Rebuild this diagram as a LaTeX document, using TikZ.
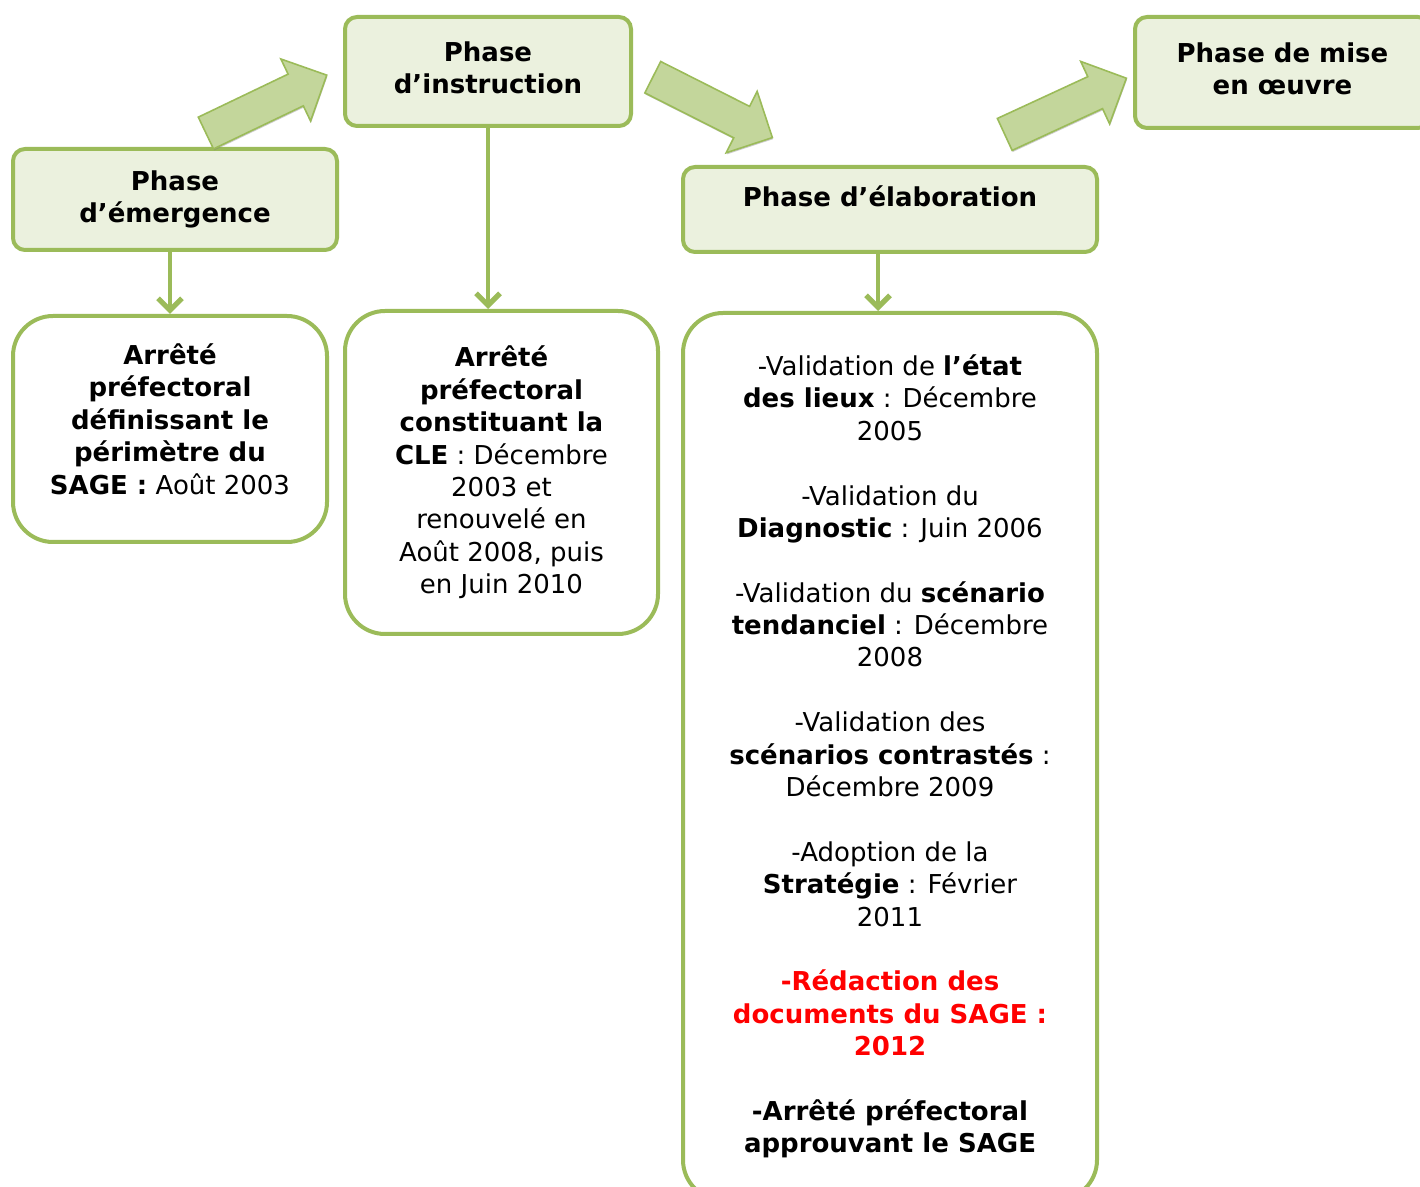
\documentclass[tikz,border=0pt]{standalone}
\usepackage{fontspec}
\setmainfont{DejaVu Sans}
\usepackage{tikz}
\usetikzlibrary{arrows.meta,shapes.arrows,shadows}
\definecolor{vert}{HTML}{9BBB59}
\definecolor{vertclair}{HTML}{EBF1DE}
\definecolor{vertfleche}{HTML}{C3D69B}
\tikzset{
		phase/.style={
			rectangle,
			rounded corners=6pt,
			fill=vertclair,
			draw=vert, line width=2pt,
			align=center,
			font=\fontsize{13}{16.2}\selectfont\bfseries,
			inner sep=0pt},
		detail/.style={
			rectangle,
			rounded corners=20pt,
			fill=white,
			draw=vert, line width=2pt,
			align=center,
			font=\fontsize{13}{16.2}\selectfont,
			inner sep=0pt},
		down/.style={draw=vert, line width=2pt,
			-{Straight Barb[length=6pt,width=12pt,line width=2.6pt]}},
		blockarrow/.style={
			single arrow,
			fill=vertfleche,
			draw=vert, line width=0.8pt,
			minimum height=67pt,
			inner xsep=0pt, inner ysep=8.4pt,
			single arrow head extend=8.4pt,
			drop shadow={shadow xshift=0.3pt, shadow yshift=-0.8pt, opacity=0.4}},
	}

\begin{document}
\begin{tikzpicture}[x=0.5pt, y=-0.5pt]
	\useasboundingbox (0,0) rectangle (1420,1187);

	%% phases
	\node[phase, minimum width=162pt, minimum height=50.5pt] (emerg) at (175,199.5) {Phase\\d’émergence};
	\node[phase, minimum width=143pt, minimum height=54.5pt, text depth=4pt] (instr) at (488,71.5) {Phase\\d’instruction};
	\node[phase, minimum width=207pt, minimum height=42.5pt, text depth=13.8pt] (elab) at (890,209.5) {Phase d’élaboration};
	\node[phase, minimum width=147.5pt, minimum height=55.5pt, text depth=4pt] (oeuvre) at (1282.5,72.5) {Phase de mise\\en œuvre};

	%% block arrows
	\node[blockarrow, rotate=25.6, xshift=-4.5pt] (go1) at (266.5,104) {};
	\node[blockarrow, rotate=-26.8, xshift=-4.5pt] (go2) at (712.75,107.5) {};
	\node[blockarrow, rotate=24.8, xshift=-4.5pt] (go3) at (1065.75,106.25) {};

	%% details
	\node[detail, minimum width=157pt, minimum height=113pt, text depth=10pt] (det1) at (170,429)
		{\textbf{Arrêté}\\\textbf{préfectoral}\\\textbf{définissant le}\\\textbf{périmètre du}\\\textbf{SAGE :} Août 2003};
	\node[detail, minimum width=156.5pt, minimum height=161.5pt] (det2) at (501.5,472.5)
		{\textbf{Arrêté}\\\textbf{préfectoral}\\\textbf{constituant la}\\\textbf{CLE} : Décembre\\2003 et\\renouvelé en\\Août 2008, puis\\en Juin 2010};
	\node[detail, minimum width=207pt, minimum height=443.5pt] (det3) at (890,756.5)
		{-Validation de \textbf{l’état}\\
		\textbf{des lieux} : Décembre\\
		2005\\[16.2pt]
		-Validation du\\
		\textbf{Diagnostic} : Juin 2006\\[16.2pt]
		-Validation du \textbf{scénario}\\
		\textbf{tendanciel} : Décembre\\
		2008\\[16.2pt]
		-Validation des\\
		\textbf{scénarios contrastés} :\\
		Décembre 2009\\[16.2pt]
		-Adoption de la\\
		\textbf{Stratégie} : Février\\
		2011\\[16.2pt]
		\textcolor{red}{\textbf{-Rédaction des}}\\
		\textcolor{red}{\textbf{documents du SAGE :}}\\
		\textcolor{red}{\textbf{2012}}\\[16.2pt]
		\textbf{-Arrêté préfectoral}\\
		\textbf{approuvant le SAGE}};

	%% links
	\draw[down] (emerg.south -| det1.north) -- (det1.north);
	\draw[down] (instr.south) -- (instr.south |- det2.north);
	\draw[down] ([xshift=-6pt]elab.south) -- ([xshift=-6pt]elab.south |- det3.north);
\end{tikzpicture}
\end{document}
